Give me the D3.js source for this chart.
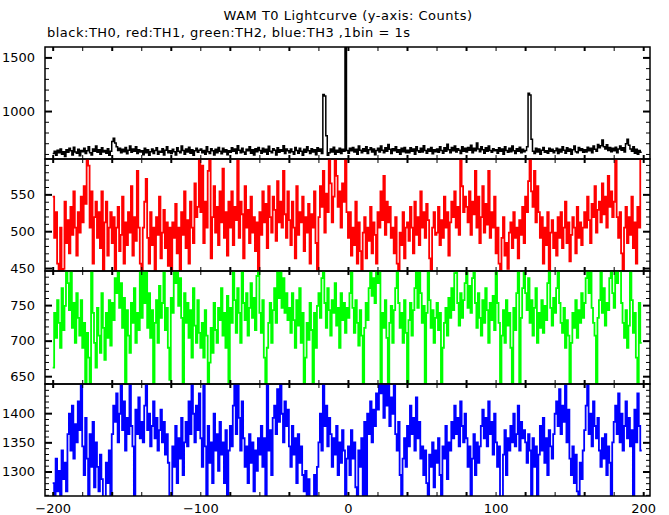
<!DOCTYPE html>
<html><head><meta charset="utf-8">
<script src="https://cdn.jsdelivr.net/npm/d3@7"></script>
<style>
body{margin:0;background:#fff}
svg{display:block}
text{font-family:"DejaVu Sans",sans-serif;fill:#000}
</style>
</head><body>
<svg id="c" width="669" height="515"></svg>
<script>
// ---- data: WAM T0 light curves, 1 s bins starting at t = -200 s ----
const binStart = -200;
const binWidth = 1;
const xTickLabels = [-200, -100, 0, 100, 200];

const th0 = [
604,625,587,635,611,646,597,621,576,639,615,653,629,590,663,618,607,643,583,632,
621,653,604,629,667,611,590,646,625,674,615,639,597,657,618,632,607,649,587,625,
716,747,702,667,632,653,611,643,621,660,601,635,674,615,646,625,667,604,639,618,
629,593,653,611,639,587,621,646,604,632,657,597,625,615,649,590,635,667,611,629,
604,643,621,590,657,625,611,674,632,597,646,618,663,607,639,587,629,653,615,635,
646,611,632,597,667,621,604,649,629,590,643,611,660,625,601,653,618,639,593,629,
615,657,625,646,604,677,635,611,653,618,597,643,629,667,607,639,590,649,621,660,
632,607,653,618,643,597,671,625,611,649,635,590,657,615,639,625,677,604,646,629,
611,646,621,597,660,632,607,653,625,587,643,615,667,629,604,649,618,639,593,657,
625,646,604,1155,1140,770,587,611,646,618,663,597,635,615,653,604,643,625,1850,632,
607,653,629,660,618,643,597,674,635,611,649,625,667,604,639,657,618,646,593,632,
653,618,674,635,611,657,625,688,643,604,649,629,667,615,639,597,653,621,660,611,
635,611,657,625,646,597,667,629,615,653,618,677,632,607,646,625,660,601,639,621,
646,615,667,632,607,657,625,691,639,611,660,629,674,618,649,635,604,667,625,653,
618,660,635,681,611,653,629,702,646,621,667,639,607,657,625,674,632,615,649,629,
639,607,657,625,646,597,667,632,615,653,621,674,629,604,649,625,663,611,643,621,
632,667,1165,1150,736,625,604,653,618,646,597,635,660,615,629,607,653,625,643,611,
629,653,604,643,618,667,635,607,657,625,646,597,639,674,621,611,660,632,649,615,
639,618,663,629,653,611,674,643,625,688,657,677,730,667,646,685,632,660,621,653,
629,663,611,646,674,635,657,618,695,737,681,646,625,667,607,643,597,632,615
];

const th1 = [
547,491,526,456,431,505,425,449,540,484,515,470,533,495,554,505,467,526,498,547,
512,561,537,624,589,505,554,456,519,540,491,526,477,554,445,512,540,467,505,526,
484,519,442,505,533,473,495,547,456,512,481,526,498,561,467,519,487,582,505,456,
425,505,540,571,491,456,526,481,505,445,519,495,547,463,498,529,477,512,453,505,
431,512,491,537,470,505,435,526,495,554,477,515,456,540,505,484,565,519,533,610,
526,589,484,540,505,582,610,463,519,561,498,533,481,554,512,585,491,526,467,540,
505,554,481,533,515,596,491,540,523,463,561,505,529,484,547,498,519,473,512,445,
526,495,554,512,537,477,561,519,498,547,529,487,568,512,540,505,582,523,491,554,
515,481,540,505,463,561,495,526,512,547,473,519,498,537,456,523,505,554,484,431,
519,561,533,582,498,551,526,610,565,512,547,624,575,533,554,505,565,540,610,526,
491,526,467,505,481,540,456,512,473,431,498,519,463,505,487,533,470,512,495,456,
526,505,554,515,575,495,540,512,533,491,505,470,519,456,435,498,481,526,463,505,
512,487,533,505,470,540,495,519,481,554,505,526,491,537,515,463,442,505,526,495,
498,533,481,515,491,547,505,526,467,512,540,519,554,505,533,495,610,561,526,547,
533,512,554,495,540,523,582,505,547,484,519,561,498,537,509,582,491,526,505,547,
470,505,456,428,491,519,467,484,449,498,512,477,526,491,505,463,515,495,533,484,
547,526,568,610,554,533,582,512,561,526,491,519,456,505,481,526,445,498,515,477,
498,467,519,491,526,477,505,540,484,512,459,495,519,505,470,533,491,512,481,505,
526,505,547,515,484,537,519,561,498,529,540,512,565,523,547,505,575,533,554,519,
540,596,519,491,526,470,428,505,533,484,519,495,547,477,512,456,533,505,610
];

const th2 = [
662,739,704,757,725,690,774,715,749,816,781,743,816,718,753,697,767,732,707,757,
690,725,623,711,676,620,816,739,697,662,746,707,683,767,718,673,739,704,757,693,
753,729,788,767,816,746,781,718,760,627,743,707,683,753,725,774,697,739,715,802,
732,823,753,816,718,767,704,743,634,725,757,697,777,732,753,816,715,746,690,645,
760,739,816,781,816,749,788,732,637,767,725,753,704,743,676,774,721,697,757,711,
690,725,676,743,707,627,669,718,683,753,715,697,746,729,774,707,739,690,763,637,
746,725,816,757,711,774,739,697,816,753,729,767,707,746,781,732,760,715,791,816,
739,711,757,676,606,690,725,753,697,743,774,725,816,760,816,746,788,739,767,729,
746,711,767,729,690,757,721,774,697,739,623,676,725,701,753,715,641,739,690,749,
767,732,788,816,753,718,774,743,707,757,739,781,721,746,690,767,729,753,711,746,
732,767,816,746,711,757,725,693,743,707,613,718,753,729,774,816,763,788,753,816,
781,816,617,739,718,757,704,620,725,749,697,743,774,816,753,718,739,697,757,711,
623,729,753,707,743,774,816,746,816,767,725,749,620,739,816,757,718,743,697,732,
753,715,739,613,690,725,746,707,760,732,774,743,795,816,753,721,767,732,757,781,
816,746,777,739,788,816,753,718,767,732,707,757,725,774,743,697,753,729,763,715,
816,753,725,620,707,743,697,757,721,739,690,623,746,715,767,816,627,732,774,816,
767,743,788,725,757,707,746,774,697,739,718,757,711,749,729,781,816,746,721,760,
739,774,816,753,725,711,746,690,729,707,620,697,739,718,757,704,743,725,767,732,
753,788,816,767,816,746,725,707,620,732,757,816,739,774,721,753,743,788,816,767,
746,816,781,816,802,753,725,704,743,690,721,816,757,711,739,676,634,753,697
];

const th3 = [
1280,1250,1322,1266,1301,1245,1336,1287,1315,1266,1364,1399,1336,1413,1322,1381,1350,1420,1371,1476,
1343,1294,1392,1322,1259,1364,1308,1385,1273,1350,1308,1266,1329,1287,1252,1250,1315,1280,1336,1245,
1364,1413,1385,1434,1350,1399,1460,1371,1420,1336,1392,1364,1448,1378,1343,1250,1406,1364,1427,1357,
1385,1350,1413,1476,1371,1399,1343,1378,1420,1357,1392,1336,1371,1406,1350,1385,1329,1364,1315,1250,
1250,1343,1308,1378,1280,1357,1322,1392,1294,1350,1385,1343,1420,1364,1476,1399,1350,1413,1371,1434,
1357,1308,1462,1343,1250,1378,1315,1350,1280,1399,1336,1364,1301,1385,1329,1350,1280,1371,1250,1336,
1378,1343,1413,1460,1364,1460,1392,1336,1420,1357,1308,1343,1280,1364,1315,1350,1266,1336,1301,1357,
1329,1378,1308,1357,1250,1460,1336,1371,1294,1392,1413,1364,1441,1385,1462,1399,1350,1420,1378,1406,
1343,1308,1378,1329,1357,1280,1364,1315,1343,1294,1266,1301,1252,1287,1238,1250,1227,1294,1259,1308,
1350,1399,1336,1476,1378,1413,1343,1392,1364,1308,1357,1329,1378,1294,1350,1315,1371,1336,1238,1322,
1343,1294,1371,1322,1350,1273,1250,1336,1308,1357,1250,1385,1250,1399,1364,1420,1350,1406,1378,1434,
1406,1460,1434,1460,1392,1448,1413,1462,1378,1427,1399,1460,1364,1336,1385,1294,1231,1322,1357,1308,
1378,1343,1413,1364,1392,1336,1427,1357,1385,1322,1343,1294,1336,1280,1250,1329,1308,1350,1273,1336,
1315,1357,1294,1250,1343,1322,1378,1287,1350,1336,1385,1357,1413,1364,1392,1343,1420,1378,1350,1399,
1357,1308,1343,1250,1322,1364,1294,1350,1315,1343,1378,1406,1357,1392,1343,1420,1364,1385,1329,1399,
1350,1308,1343,1250,1227,1329,1371,1294,1357,1336,1378,1350,1399,1343,1364,1413,1336,1385,1357,1371,
1350,1315,1364,1336,1241,1357,1308,1343,1250,1329,1378,1336,1392,1315,1357,1294,1371,1343,1322,1364,
1399,1420,1378,1441,1364,1413,1385,1448,1350,1406,1322,1294,1343,1280,1329,1266,1238,1315,1287,1336,
1371,1413,1460,1364,1399,1343,1420,1378,1357,1392,1336,1308,1357,1322,1364,1294,1343,1315,1250,1350,
1385,1413,1364,1434,1350,1399,1336,1378,1420,1357,1392,1343,1371,1259,1406,1350,1434,1378,1336
];

// y-axis tick labels per panel
const yTicks0 = [1000, 1500];
const yTicks1 = [450, 500, 550];
const yTicks2 = [650, 700, 750];
const yTicks3 = [1300, 1350, 1400];

const titleText = "WAM T0 Lightcurve (y-axis: Counts)";
const subtitleText = "black:TH0, red:TH1, green:TH2, blue:TH3 ,1bin = 1s";

// ---- drawing ----
const svg = d3.select("#c");
svg.append("rect").attr("width", 669).attr("height", 515).attr("fill", "#fff");

const left = 45, right = 650;
const x = d3.scaleLinear().domain([-205.2, 204.6]).range([left, right]);

const panels = [
  {values: th0, color: "#000000", domain: [553, 1597], ticks: yTicks0, minor: 100, top: 47,  bottom: 159},
  {values: th1, color: "#ff0000", domain: [446, 598],  ticks: yTicks1, minor: 10,  top: 159, bottom: 271},
  {values: th2, color: "#00ff00", domain: [639, 798],  ticks: yTicks2, minor: 10,  top: 271, bottom: 384},
  {values: th3, color: "#0000ff", domain: [1258, 1450], ticks: yTicks3, minor: 10, top: 384, bottom: 496}
];

const xMinor = d3.range(-200, 201, 20);

panels.forEach((p, k) => {
  const y = d3.scaleLinear().domain(p.domain).range([p.bottom, p.top]);
  const id = "clip" + k;
  svg.append("clipPath").attr("id", id)
    .append("rect").attr("x", left).attr("y", p.top)
    .attr("width", right - left).attr("height", p.bottom - p.top);

  const pts = p.values.map((v, i) => [binStart + i * binWidth, v]);
  pts.push([binStart + p.values.length * binWidth, p.values[p.values.length - 1]]);
  const line = d3.line().x(d => x(d[0])).y(d => y(d[1])).curve(d3.curveStepAfter);
  svg.append("path").datum(pts)
    .attr("clip-path", `url(#${id})`)
    .attr("fill", "none").attr("stroke", p.color)
    .attr("stroke-width", k === 0 ? 1.5 : 1.8)
    .attr("d", line);

  // minor y ticks (left & right)
  const minorVals = d3.range(Math.ceil(p.domain[0] / p.minor) * p.minor, p.domain[1], p.minor)
    .filter(v => !p.ticks.includes(v));
  const gL = svg.append("g").attr("transform", `translate(${left},0)`)
    .call(d3.axisLeft(y).tickValues(minorVals).tickSize(-4).tickFormat(""));
  const gR = svg.append("g").attr("transform", `translate(${right},0)`)
    .call(d3.axisRight(y).tickValues(minorVals).tickSize(-4).tickFormat(""));
  // major y ticks with labels
  const gLM = svg.append("g").attr("transform", `translate(${left},0)`)
    .call(d3.axisLeft(y).tickValues(p.ticks).tickSize(-7).tickPadding(10).tickFormat(d3.format("d")));
  const gRM = svg.append("g").attr("transform", `translate(${right},0)`)
    .call(d3.axisRight(y).tickValues(p.ticks).tickSize(-7).tickFormat(""));
  [gLM, gRM].forEach(g => g.selectAll(".tick line").attr("stroke-width", 2));

  // x ticks top & bottom, inward
  const gT = svg.append("g").attr("transform", `translate(0,${p.top})`)
    .call(d3.axisTop(x).tickValues(xMinor).tickSize(-4).tickFormat(""));
  const gB = svg.append("g").attr("transform", `translate(0,${p.bottom})`)
    .call(d3.axisBottom(x).tickValues(xMinor).tickSize(-4).tickFormat(""));
  [gT, gB].forEach(g => g.selectAll(".tick line")
    .attr("stroke-width", d => (d % 40 === 0 ? 2 : 1)));

  [gL, gR, gLM, gRM, gT, gB].forEach(g => {
    g.select(".domain").remove();
    g.selectAll("text").attr("font-family", "DejaVu Sans").attr("font-size", 13).attr("fill", "#000");
  });

  svg.append("rect").attr("x", left).attr("y", p.top)
    .attr("width", right - left).attr("height", p.bottom - p.top)
    .attr("fill", "none").attr("stroke", "#000").attr("stroke-width", 1.5);
});

// bottom x-axis labels
const gX = svg.append("g").attr("transform", `translate(0,496)`)
  .call(d3.axisBottom(x).tickValues(xTickLabels).tickSize(0).tickPadding(8));
gX.select(".domain").remove();
gX.selectAll("text").attr("font-family", "DejaVu Sans").attr("font-size", 13).attr("fill", "#000");

svg.append("text").attr("x", 348).attr("y", 20).attr("text-anchor", "middle")
  .attr("font-size", 13).attr("letter-spacing", 0.5).text(titleText);
svg.append("text").attr("x", 47).attr("y", 37).attr("text-anchor", "start")
  .attr("font-size", 13).attr("letter-spacing", 0.5).text(subtitleText);
</script>
</body></html>
